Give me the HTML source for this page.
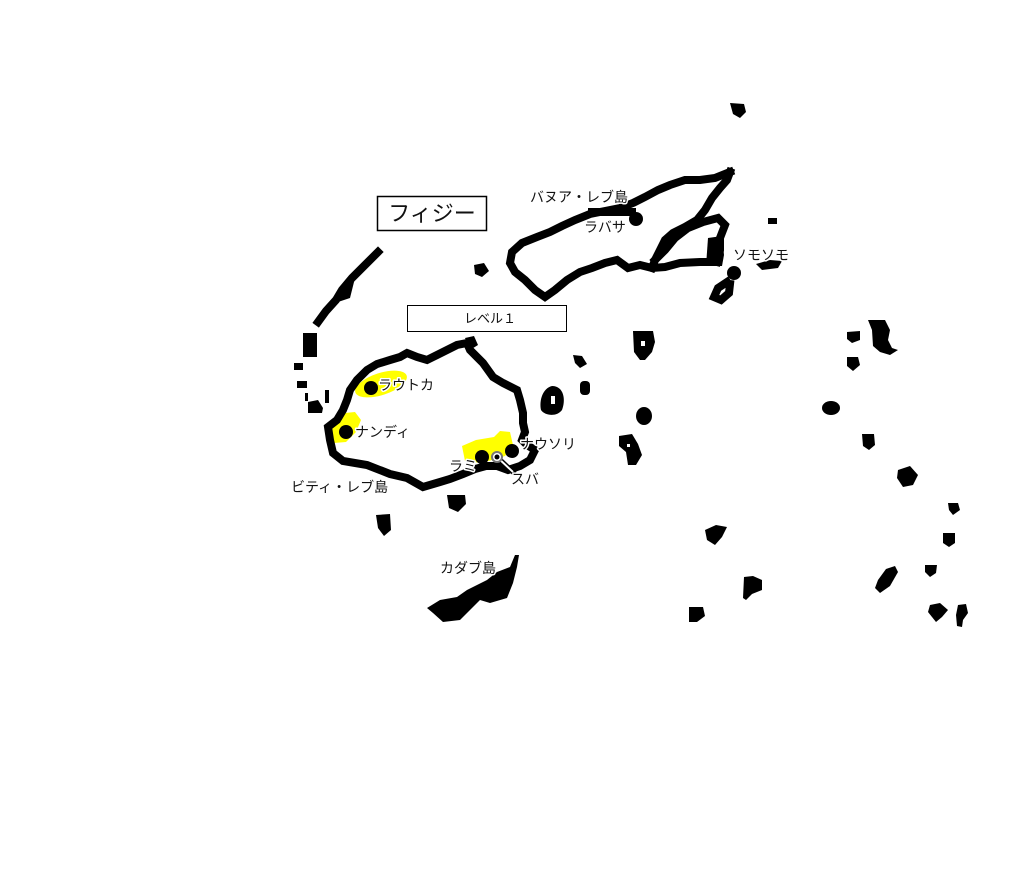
<!DOCTYPE html>
<html><head><meta charset="utf-8"><style>
html,body{margin:0;padding:0;background:#fff;}
svg{display:block;}
text{font-family:"Liberation Sans","Noto Sans CJK JP",sans-serif;fill:#111;}
.h{paint-order:stroke;stroke:#fff;stroke-width:3px;stroke-linejoin:round;}
</style></head><body>
<svg width="1022" height="886" viewBox="0 0 1022 886" xmlns="http://www.w3.org/2000/svg">
<rect width="1022" height="886" fill="#fff"/>
<!-- yellow areas -->
<g fill="#ffff00">
<ellipse cx="381" cy="384" rx="27" ry="11" transform="rotate(-18 381 384)"/>
<polygon points="336,420 345,413 355,412 361,420 356,432 346,442 334,443 331,432"/>
<polygon points="462,446 476,440 494,437 500,431 510,432 513,445 505,456 482,463 465,461"/>
<polygon points="484,586 494,587 496,595 486,596"/>
<polygon points="443,605 457,604 456,612 444,612"/>
</g>
<g fill="none" stroke="#000" stroke-width="8" stroke-linejoin="miter" stroke-linecap="square">
<!-- Viti Levu -->
<polygon points="407,353 417,357 427,360 437,355 447,350 457,345 467,343 470,350 477,357 483,363 493,377 503,383 517,390 520,400 523,413 523,423 525,432 522,440 527,445 535,450 530,460 520,466 508,470 497,466 486,466 475,469 463,474 450,479 440,482 423,487 407,478 390,474 367,465 343,461 333,453 330,440 328,427 337,420 343,410 347,400 350,390 357,380 367,370 377,364 390,360 400,357"/>
<!-- Vanua Levu -->
<polyline points="730,172 715,178 700,180 685,180 670,185 658,190 645,197 633,203 620,208 605,211 590,214 575,220 562,226 550,232 537,237 522,243 512,252 510,263 515,272 525,280 535,290 545,297 555,290 567,280 580,272 592,268 605,263 617,260 628,268 640,265 652,268 665,267 680,263 700,262 717,262"/>
<polyline points="730,172 727,180 720,188 712,198 705,210 697,220 685,227 673,233 665,240 660,250 655,260 652,268"/>
<polyline points="655,260 665,250 675,238 688,228 703,222 718,218 725,225 720,238 720,250 717,262"/>
<polyline points="727,282 718,288 714,297 721,300 729,293 730,284"/>
<!-- Yasawa -->
<polyline points="378,252 366,264 352,278 342,290 336,300 326,311 318,322" stroke-width="8"/>
</g>
<g fill="#000">
<!-- Vanua Levu blobs -->
<polygon points="708,238 722,236 724,255 722,266 706,266"/>
<rect x="588" y="208" width="48" height="8"/>
<polygon points="730,103 744,104 746,112 740,118 733,114"/>
<rect x="768" y="218" width="9" height="6"/>
<polygon points="756,264 770,260 782,261 778,268 762,270"/>
<polygon points="474,265 484,263 489,271 482,277 475,274"/>
<!-- Yasawa extra -->
<polygon points="343,283 355,278 350,298 338,302"/>
<rect x="303" y="333" width="14" height="24"/>
<rect x="294" y="363" width="9" height="7"/>
<rect x="297" y="381" width="10" height="7"/>
<rect x="305" y="393" width="3" height="8"/>
<rect x="325" y="390" width="4" height="13"/>
<polygon points="308,402 318,400 323,408 322,413 308,413"/>
<!-- around Viti Levu -->
<polygon points="465,338 474,336 478,345 470,350"/>
<polygon points="573,355 582,356 587,364 580,368 575,363"/>
<rect x="580" y="381" width="10" height="14" rx="4"/>
<path d="M552,386 C564,386 566,400 562,410 C557,417 545,416 541,410 C539,400 543,388 552,386 Z M551,396 L551,404 L555,404 L555,396 Z" fill-rule="evenodd"/>
<polygon points="447,495 465,495 466,504 458,512 449,508"/>
<polygon points="376,515 390,514 391,530 384,536 378,528"/>
<!-- Kadavu -->
<polygon points="427,608 440,600 457,597 467,590 487,580 497,572 510,567 515,555 519,555 517,567 513,583 507,598 490,603 480,600 470,610 460,620 443,622 433,613"/>
<!-- eastern islands -->
<path d="M633,331 L653,331 L655,342 L652,352 L645,360 L640,360 L634,352 Z M641,341 L641,346 L645,346 L645,341 Z" fill-rule="evenodd"/>
<ellipse cx="644" cy="416" rx="8" ry="9"/>
<path d="M619,436 L632,434 L638,444 L642,455 L636,465 L628,465 L626,452 L619,446 Z M627,444 L627,447 L630,447 L630,444 Z" fill-rule="evenodd"/>
<ellipse cx="831" cy="408" rx="9" ry="7"/>
<polygon points="862,434 874,434 875,445 869,450 863,446"/>
<polygon points="898,470 910,466 918,475 913,485 903,487 897,478"/>
<polygon points="948,503 958,503 960,510 953,515 949,510"/>
<polygon points="943,533 955,533 955,543 949,547 943,543"/>
<polygon points="925,565 937,565 936,573 930,577 925,572"/>
<polygon points="930,605 940,603 948,610 942,617 936,622 928,612"/>
<polygon points="958,605 966,604 968,613 963,620 962,627 957,626 956,615"/>
<polygon points="878,580 886,569 895,566 898,572 890,586 880,593 875,588"/>
<polygon points="744,577 753,576 762,580 762,590 752,594 746,600 743,598"/>
<polygon points="705,530 716,525 727,527 722,537 715,545 707,540"/>
<polygon points="689,607 703,607 705,616 697,622 689,622"/>
<polygon points="847,332 860,331 860,340 852,343 847,339"/>
<polygon points="847,357 858,357 860,365 853,371 847,366"/>
<polygon points="868,320 885,320 890,330 888,340 892,348 898,350 890,355 880,352 873,346 872,330"/>
<!-- dots -->
<circle cx="371" cy="388" r="7"/>
<circle cx="346" cy="432" r="7"/>
<circle cx="482" cy="457" r="7"/>
<circle cx="512" cy="451" r="7"/>
<circle cx="636" cy="219" r="7"/>
<circle cx="734" cy="273" r="7"/>
</g>
<!-- Suva marker -->
<line x1="497" y1="457" x2="513" y2="472" stroke="#000" stroke-width="5" stroke-linecap="square"/>
<line x1="497" y1="457" x2="513" y2="472" stroke="#fff" stroke-width="2"/>
<circle cx="497" cy="457" r="5" fill="#fff" stroke="#777" stroke-width="2"/>
<circle cx="497" cy="457" r="2.5" fill="#000"/>
<!-- boxes -->
<rect x="377.5" y="196.5" width="109" height="34" fill="#fff" stroke="#000" stroke-width="1.5"/>
<text x="432" y="221" font-size="22" text-anchor="middle">フィジー</text>
<rect x="407.5" y="305.5" width="159" height="26" fill="#fff" stroke="#000" stroke-width="1"/>
<text x="490" y="323" font-size="13" text-anchor="middle">レベル１</text>
<!-- labels -->
<g font-size="14">
<text class="h" x="378" y="390">ラウトカ</text>
<text class="h" x="355" y="437">ナンディ</text>
<text class="h" x="520" y="449">ナウソリ</text>
<text class="h" x="449" y="471">ラミ</text>
<text class="h" x="511" y="484">スバ</text>
<text class="h" x="291" y="492">ビティ・レブ島</text>
<text class="h" x="530" y="202">バヌア・レブ島</text>
<text class="h" x="584" y="232">ラバサ</text>
<text class="h" x="733" y="260">ソモソモ</text>
<text class="h" x="440" y="573">カダブ島</text>
</g>
</svg>
</body></html>
